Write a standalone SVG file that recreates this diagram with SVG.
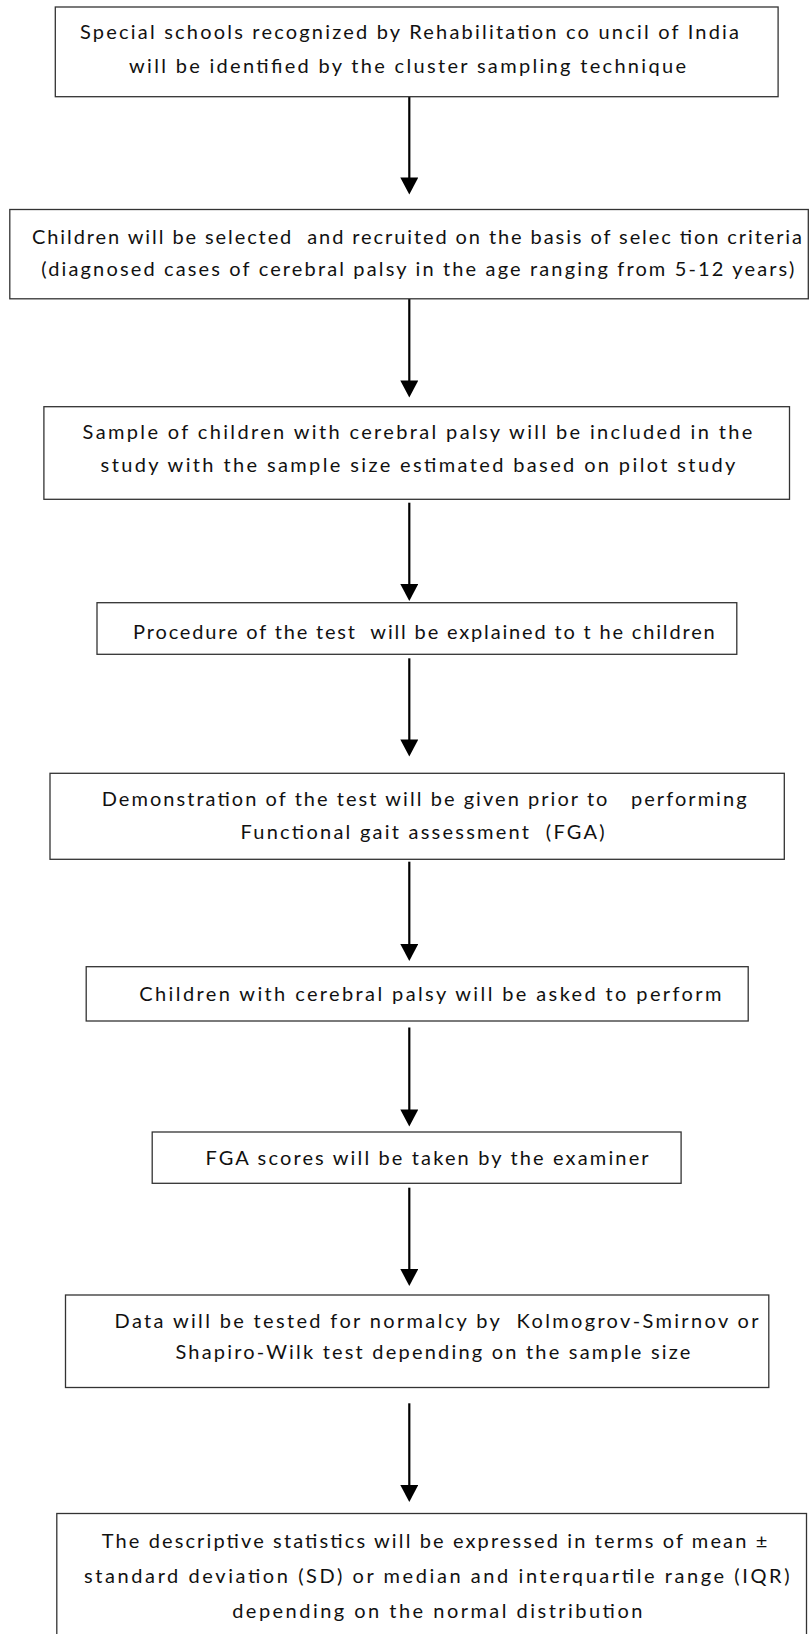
<svg xmlns="http://www.w3.org/2000/svg" width="809" height="1634" viewBox="0 0 809 1634">
<style>
  .box { fill: #ffffff; stroke: #333333; stroke-width: 1.3; }
  .lbl { font-family: Lato, "Liberation Sans", sans-serif; font-size: 20px; fill: #111111; white-space: pre; }
  .conn { stroke: #000000; stroke-width: 2.2; fill: none; marker-end: url(#arrow); }
</style>
<defs>
  <marker id="arrow" markerUnits="userSpaceOnUse" markerWidth="18" markerHeight="18" viewBox="0 0 17 18" refX="1" refY="9" orient="auto">
    <path d="M0,0 L17,9 L0,18 Z" fill="#000000"/>
  </marker>
</defs>
<rect width="809" height="1634" fill="#ffffff"/>

<g id="connectors">
  <line class="conn" x1="409.3" y1="97" x2="409.3" y2="178.5"/>
  <line class="conn" x1="409.3" y1="299" x2="409.3" y2="381.5"/>
  <line class="conn" x1="409.3" y1="502.7" x2="409.3" y2="585"/>
  <line class="conn" x1="409.3" y1="658.3" x2="409.3" y2="740.5"/>
  <line class="conn" x1="409.3" y1="861.7" x2="409.3" y2="945"/>
  <line class="conn" x1="409.3" y1="1027.5" x2="409.3" y2="1110.5"/>
  <line class="conn" x1="409.3" y1="1187.7" x2="409.3" y2="1270"/>
  <line class="conn" x1="409.3" y1="1403.3" x2="409.3" y2="1486"/>
</g>

<g id="node1">
  <rect class="box" x="55.3" y="7" width="722.8" height="89.7"/>
  <text class="lbl" x="80" y="39.3" textLength="659" lengthAdjust="spacing">Special schools recognized by Rehabilitation co uncil of India</text>
  <text class="lbl" x="129" y="73" textLength="557" lengthAdjust="spacing">will be identified by the cluster sampling technique</text>
</g>

<g id="node2">
  <rect class="box" x="9.8" y="209.5" width="798.5" height="89.3"/>
  <text class="lbl" x="32" y="244" textLength="770" lengthAdjust="spacing">Children will be selected  and recruited on the basis of selec tion criteria</text>
  <text class="lbl" x="41.3" y="276" textLength="753" lengthAdjust="spacing">(diagnosed cases of cerebral palsy in the age ranging from 5-12 years)</text>
</g>

<g id="node3">
  <rect class="box" x="43.9" y="406.7" width="745.6" height="92.6"/>
  <text class="lbl" x="82.6" y="439" textLength="669.7" lengthAdjust="spacing">Sample of children with cerebral palsy will be included in the</text>
  <text class="lbl" x="100.6" y="472" textLength="634.7" lengthAdjust="spacing">study with the sample size estimated based on pilot study</text>
</g>

<g id="node4">
  <rect class="box" x="97" y="602.7" width="639.8" height="51.6"/>
  <text class="lbl" x="133.1" y="638.5" textLength="581.6" lengthAdjust="spacing">Procedure of the test  will be explained to t he children</text>
</g>

<g id="node5">
  <rect class="box" x="50" y="773.3" width="734.3" height="86"/>
  <text class="lbl" x="101.7" y="806" textLength="644.9" lengthAdjust="spacing">Demonstration of the test will be given prior to   performing</text>
  <text class="lbl" x="240.5" y="838.5" textLength="364.2" lengthAdjust="spacing">Functional gait assessment  (FGA)</text>
</g>

<g id="node6">
  <rect class="box" x="86.2" y="966.7" width="662" height="54.3"/>
  <text class="lbl" x="139.3" y="1000.5" textLength="582.1" lengthAdjust="spacing">Children with cerebral palsy will be asked to perform</text>
</g>

<g id="node7">
  <rect class="box" x="152.2" y="1132" width="528.9" height="51.3"/>
  <text class="lbl" x="205.4" y="1164.5" textLength="443.2" lengthAdjust="spacing">FGA scores will be taken by the examiner</text>
</g>

<g id="node8">
  <rect class="box" x="65.5" y="1295" width="703.3" height="92.5"/>
  <text class="lbl" x="114.6" y="1327.5" textLength="643.9" lengthAdjust="spacing">Data will be tested for normalcy by  Kolmogrov-Smirnov or</text>
  <text class="lbl" x="175.4" y="1358.5" textLength="515" lengthAdjust="spacing">Shapiro-Wilk test depending on the sample size</text>
</g>

<g id="node9">
  <rect class="box" x="56.8" y="1513.5" width="749.7" height="140"/>
  <text class="lbl" x="101.7" y="1548" textLength="665.6" lengthAdjust="spacing">The descriptive statistics will be expressed in terms of mean ±</text>
  <text class="lbl" x="84.1" y="1583" textLength="705.4" lengthAdjust="spacing">standard deviation (SD) or median and interquartile range (IQR)</text>
  <text class="lbl" x="232.2" y="1617.5" textLength="410.2" lengthAdjust="spacing">depending on the normal distribution</text>
</g>
</svg>
